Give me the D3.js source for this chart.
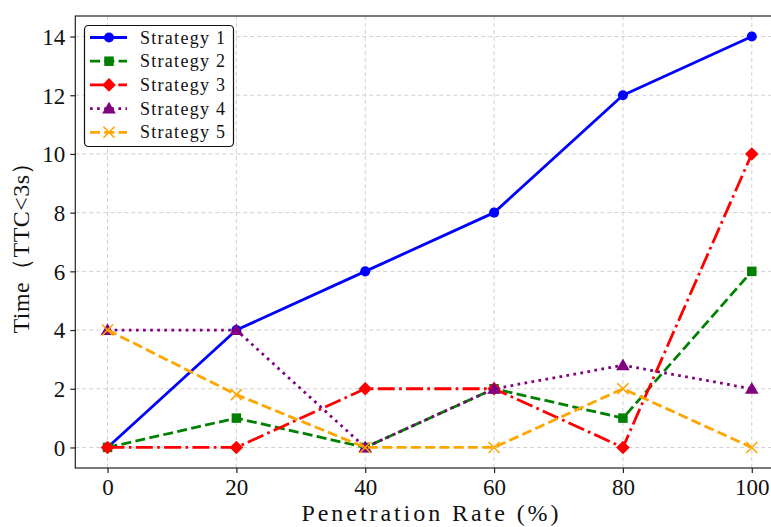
<!DOCTYPE html>
<html><head><meta charset="utf-8">
<script src="https://cdn.jsdelivr.net/npm/d3@7"></script>
<style>body{margin:0;background:#fff;} svg{display:block;}</style>
</head><body>
<svg id="c" width="771" height="527"></svg>
<script>
const rates = [0, 20, 40, 60, 80, 100];
const xTicks = [0, 20, 40, 60, 80, 100];
const yTicks = [0, 2, 4, 6, 8, 10, 12, 14];
const seriesNames = ["Strategy 1", "Strategy 2", "Strategy 3", "Strategy 4", "Strategy 5"];
const s1 = [0, 4, 6, 8, 12, 14];
const s2 = [0, 1, 0, 2, 1, 6];
const s3 = [0, 0, 2, 2, 0, 10];
const s4 = [4, 4, 0, 2, 2.8, 2];
const s5 = [4, 1.8, 0, 0, 2, 0];
const seriesValues = [s1, s2, s3, s4, s5];

const colors = ["blue", "green", "red", "purple", "orange"];
const dashes = [null, "10,4.3", "17,4.3,2.7,4.3", "2.7,4.4", "10,4.3"];
const symbols = ["circle", "square", "diamond", "triangle", "x"];

const svg = d3.select("#c");
const FONT = "'Liberation Serif','DejaVu Serif',serif";
const x = d3.scaleLinear().domain([-5, 105]).range([75.3, 784]);
const y = d3.scaleLinear().domain([-0.7, 14.7]).range([468, 16]);

// grid
const g = svg.append("g");
g.selectAll(".gx").data(xTicks).enter().append("line")
  .attr("x1", d => x(d)).attr("x2", d => x(d)).attr("y1", 16).attr("y2", 468)
  .attr("stroke", "#d0d0d0").attr("stroke-width", 1).attr("stroke-dasharray", "4,3");
g.selectAll(".gy").data(yTicks).enter().append("line")
  .attr("x1", 75.3).attr("x2", 784).attr("y1", d => y(d)).attr("y2", d => y(d))
  .attr("stroke", "#d0d0d0").attr("stroke-width", 1).attr("stroke-dasharray", "4,3");

// axes
const xAxis = d3.axisBottom(x).tickValues(xTicks).tickSize(5).tickPadding(6).tickFormat(d3.format("d"));
const yAxis = d3.axisLeft(y).tickValues(yTicks).tickSize(5).tickPadding(5).tickFormat(d3.format("d"));
const ax = svg.append("g").attr("transform", "translate(0,468)").call(xAxis);
const ay = svg.append("g").attr("transform", "translate(75.3,0)").call(yAxis);
[ax, ay].forEach(a => {
  a.select(".domain").remove();
  a.selectAll(".tick line").attr("stroke", "#222").attr("stroke-width", 1.2);
  a.selectAll(".tick text").attr("font-family", FONT).attr("font-size", 23).attr("fill", "#111");
});
ay.selectAll(".tick text").attr("dy", "0.34em");
// spines
svg.append("rect").attr("x", 75.3).attr("y", 16).attr("width", 784 - 75.3).attr("height", 452)
  .attr("fill", "none").attr("stroke", "#222").attr("stroke-width", 1.2);

// lines
const line = d3.line().x((d, i) => x(rates[i])).y(d => y(d));
function drawMarker(sel, type, color, cx, cy) {
  if (type === "x") {
    const s = 5.5;
    sel.append("path").attr("d", `M${cx - s},${cy - s}L${cx + s},${cy + s}M${cx - s},${cy + s}L${cx + s},${cy - s}`)
      .attr("stroke", color).attr("stroke-width", 1.6).attr("fill", "none");
    return;
  }
  if (type === "diamond") {
    const h = 6.8;
    sel.append("path").attr("d", `M${cx},${cy - h}L${cx + h},${cy}L${cx},${cy + h}L${cx - h},${cy}Z`).attr("fill", color);
    return;
  }
  const map = { circle: [d3.symbolCircle, 80], square: [d3.symbolSquare, 90], triangle: [d3.symbolTriangle, 80] };
  const [sym, size] = map[type];
  let tr = `translate(${cx},${cy})`;
  if (type === "triangle") tr += " translate(0,1)";
  sel.append("path").attr("d", d3.symbol().type(sym).size(size)()).attr("transform", tr).attr("fill", color);
}
seriesValues.forEach((vals, k) => {
  const gg = svg.append("g");
  gg.append("path").attr("d", line(vals)).attr("fill", "none").attr("stroke", colors[k])
    .attr("stroke-width", 2.8).attr("stroke-dasharray", dashes[k]).attr("stroke-linejoin", "round");
  vals.forEach((v, i) => drawMarker(gg, symbols[k], colors[k], x(rates[i]), y(v)));
});

// legend
const lg = svg.append("g");
lg.append("rect").attr("x", 84.5).attr("y", 25.5).attr("width", 149).attr("height", 121).attr("rx", 4)
  .attr("fill", "rgba(255,255,255,0.85)").attr("stroke", "#111").attr("stroke-width", 1.2);
seriesNames.forEach((name, k) => {
  const ly = 37.5 + k * 23.7;
  lg.append("line").attr("x1", 90).attr("x2", 127).attr("y1", ly).attr("y2", ly)
    .attr("stroke", colors[k]).attr("stroke-width", 2.8).attr("stroke-dasharray", dashes[k]);
  drawMarker(lg, symbols[k], colors[k], 109, ly);
  lg.append("text").attr("x", 140).attr("y", ly + 6).attr("font-family", FONT).attr("font-size", 18)
    .attr("textLength", 85).attr("lengthAdjust", "spacing").attr("fill", "#111").text(name);
});

// axis labels
svg.append("text").attr("x", 430).attr("y", 521).attr("text-anchor", "middle")
  .attr("font-family", FONT).attr("font-size", 24).attr("fill", "#111")
  .attr("textLength", 257).attr("lengthAdjust", "spacing").text("Penetration Rate (%)");
svg.append("text").attr("transform", "translate(29,242) rotate(-90)").attr("text-anchor", "middle")
  .attr("font-family", FONT).attr("font-size", 24).attr("fill", "#111")
  .attr("textLength", 183).attr("lengthAdjust", "spacing").text("Time（TTC<3s）");
</script>
</body></html>
